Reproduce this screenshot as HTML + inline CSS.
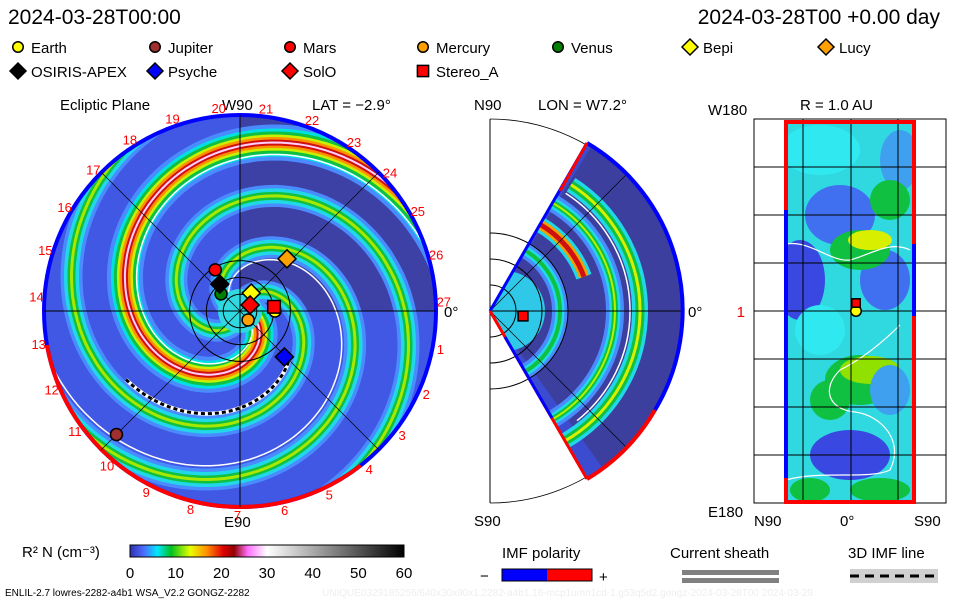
<!DOCTYPE html>
<html><head><meta charset="utf-8">
<style>
html,body{margin:0;padding:0;background:#fff;}
body{width:960px;height:600px;overflow:hidden;font-family:"Liberation Sans",sans-serif;}
svg text{font-family:"Liberation Sans",sans-serif;}
</style></head>
<body>
<svg id="chart" width="960" height="600" viewBox="0 0 960 600" xmlns="http://www.w3.org/2000/svg">
<defs>
  <clipPath id="eclClip"><circle cx="240" cy="311" r="195"/></clipPath>
  <clipPath id="merClip"><path d="M490,311 L587,143 A194,194 0 0 1 587,479 Z"/></clipPath>
  <clipPath id="rClip"><rect x="786" y="122" width="128" height="380"/></clipPath>
  <linearGradient id="cbar" x1="0" x2="1" y1="0" y2="0">
    <stop offset="0" stop-color="#3030b0"/>
    <stop offset="0.05" stop-color="#4c6cff"/>
    <stop offset="0.1" stop-color="#00e8ff"/>
    <stop offset="0.15" stop-color="#00c020"/>
    <stop offset="0.22" stop-color="#e8ff00"/>
    <stop offset="0.28" stop-color="#ff9000"/>
    <stop offset="0.34" stop-color="#e00000"/>
    <stop offset="0.38" stop-color="#900000"/>
    <stop offset="0.43" stop-color="#ff70ff"/>
    <stop offset="0.5" stop-color="#ffffff"/>
    <stop offset="1" stop-color="#000000"/>
  </linearGradient>
</defs>
<text x="8" y="24" font-size="21">2024-03-28T00:00</text>
<text x="940" y="24" font-size="21" text-anchor="end">2024-03-28T00 +0.00 day</text>
<g id="legend"></g>

<g id="ecl">
  <text x="60" y="110" font-size="15">Ecliptic Plane</text>
  <text x="222" y="110" font-size="15">W90</text>
  <text x="312" y="110" font-size="15">LAT = −2.9°</text>
  <text x="224" y="527" font-size="15">E90</text>
  <text x="444" y="317" font-size="15">0°</text>
  <g clip-path="url(#eclClip)" id="eclBody">
    <circle cx="240" cy="311" r="196" fill="#4058e4"/>
    <path d="M240,311 L240,100 A211,211 0 0 1 451,311 Z" fill="#3d3f9e" opacity="0.9"/>
  </g>
  <g id="eclOver"></g>
</g>

<g id="mer">
  <text x="474" y="110" font-size="15">N90</text>
  <text x="538" y="110" font-size="15">LON = W7.2°</text>
  <text x="474" y="526" font-size="15">S90</text>
  <text x="688" y="317" font-size="15">0°</text>
  <path d="M490,119 A192,192 0 0 1 490,503" fill="none" stroke="#000" stroke-width="0.8"/>
  <line x1="490" y1="119" x2="490" y2="503" stroke="#000" stroke-width="1"/>
  <g clip-path="url(#merClip)" id="merBody">
    <rect x="480" y="100" width="220" height="420" fill="#3c4cd0"/>
    <path d="M490,311 L700,311 L700,100 L620,100 Z" fill="#3d3f9e"/>
    <path d="M490,311 L700,311 L700,520 L640,520 Z" fill="#3d3f9e"/>
  </g>
  <g id="merOver"></g>
</g>

<g id="rp">
  <text x="800" y="110" font-size="15">R = 1.0 AU</text>
  <text x="708" y="115" font-size="15">W180</text>
  <text x="708" y="517" font-size="15">E180</text>
  <text x="754" y="526" font-size="15">N90</text>
  <text x="840" y="526" font-size="15">0°</text>
  <text x="914" y="526" font-size="15">S90</text>
  <text x="745" y="317" font-size="15" fill="#e00" text-anchor="end">1</text>
  <g clip-path="url(#rClip)" id="rBody">
    <rect x="786" y="122" width="128" height="380" fill="#30d8e0"/>
  </g>
  <g id="rOver"></g>
</g>

<g id="cb">
  <text x="22" y="557" font-size="15">R² N (cm⁻³)</text>
  <rect x="130" y="545" width="274" height="12" fill="url(#cbar)" stroke="#000" stroke-width="1"/>
</g>
<g>
  <text x="502" y="558" font-size="15">IMF polarity</text>
  <text x="480" y="581" font-size="15">−</text>
  <rect x="502" y="569" width="45" height="12" fill="#00f"/>
  <rect x="547" y="569" width="45" height="12" fill="#f00"/>
  <rect x="502" y="569" width="90" height="12" fill="none" stroke="#000"/>
  <text x="599" y="582" font-size="15">+</text>
</g>
<g>
  <text x="670" y="558" font-size="15">Current sheath</text>
  <rect x="682" y="570" width="97" height="5" fill="#808080"/>
  <rect x="682" y="578" width="97" height="5" fill="#808080"/>
</g>
<g>
  <text x="848" y="558" font-size="15">3D IMF line</text>
  <rect x="850" y="569" width="88" height="14" fill="#d0d0d0"/>
  <line x1="850" y1="576" x2="938" y2="576" stroke="#000" stroke-width="3" stroke-dasharray="9,6"/>
</g>
<text x="5" y="596" font-size="10">ENLIL-2.7 lowres-2282-a4b1 WSA_V2.2 GONGZ-2282</text>
<text x="322" y="596" font-size="10" fill="#eeeeee">UNIQUE0329185256/640x30x90x1.2282-a4b1.16-mcp1umn1cd-1.g53q5d2.gongz-2024-03-28T00   2024-03-29</text>
</svg>
<script>
// ---- data ----
var legendNames = ["Earth","Jupiter","Mars","Mercury","Venus","Bepi","Lucy","OSIRIS-APEX","Psyche","SolO","Stereo_A"];
var legendColors = ["#ffff00","#a03030","#ff0000","#ffa000","#008000","#ffff00","#ffa000","#000000","#0000ff","#ff0000","#ff0000"];
var legendShapes = ["c","c","c","c","c","d","d","d","d","d","s"];
var bodyRadiusAU = [1.04,5.2,1.43,0.36,0.76,0.63,2.09,1.0,1.9,0.35,1.02];
var bodyAngleDeg = [0,225,121,-48,138,58,48,127,-46,31,7];
var cbTicks = [0,10,20,30,40,50,60];
var rimLabels = [1,2,3,4,5,6,7,8,9,10,11,12,13,14,15,16,17,18,19,20,21,22,23,24,25,26,27];
var armPhase = [0, 1.5708, 3.1416, 4.7124];
var armKind = ["hot","green","green","green"];

var NS="http://www.w3.org/2000/svg";
function mk(tag, attrs, parent){var e=document.createElementNS(NS,tag);for(var k in attrs)e.setAttribute(k,attrs[k]);(parent||document.getElementById('chart')).appendChild(e);return e;}
var CX=240, CY=311, SC=33.6;

// legend
var leg=document.getElementById('legend');
var lx=[18,155,290,423,558,690,826,18,155,290,423];
var ly=[47,47,47,47,47,47,47,71,71,71,71];
function marker(shape,x,y,col,size,parent){
  var e;
  if(shape==="c"){e=mk('circle',{cx:x,cy:y,r:size*0.75,fill:col,stroke:'#000','stroke-width':1.5},parent);}
  else if(shape==="d"){e=mk('path',{d:'M'+x+','+(y-size)+' L'+(x+size)+','+y+' L'+x+','+(y+size)+' L'+(x-size)+','+y+' Z',fill:col,stroke:'#000','stroke-width':1.5},parent);}
  else {e=mk('rect',{x:x-size*0.7,y:y-size*0.7,width:size*1.4,height:size*1.4,fill:col,stroke:'#000','stroke-width':1.5},parent);}
  return e;
}
for(var i=0;i<legendNames.length;i++){
  var g=mk('g',{},leg);
  
  
  marker(legendShapes[i],lx[i],ly[i],legendColors[i],legendShapes[i]==="c"?7:8,g);
  var t=mk('text',{x:lx[i]+13,y:ly[i]+6,'font-size':15},g);t.textContent=legendNames[i];
}

// spiral arms
var body=document.getElementById('eclBody');
function armD(p0,cx,cy,B){
  var d='';
  for(var k=0;k<=200;k++){var ph=p0+k*0.05;var r=B*(ph-p0);if(r>260)break;
    var x=cx+r*Math.cos(ph), y=cy+r*Math.sin(ph); d+=(k?'L':'M')+x.toFixed(1)+','+y.toFixed(1);}
  return d;
}
var layersHot=[[36,'#4a8cff'],[28,'#00e0e0'],[22,'#10c040'],[16,'#c8f000'],[11,'#ff9000'],[6,'#d01010'],[2,'#ffd0ff']];
var layersGreen=[[22,'#4a8cff'],[15,'#20d8e8'],[8,'#10c040'],[3,'#a8e800']];
for(var a=0;a<armPhase.length;a++){
  var L=armKind[a]==="hot"?layersHot:layersGreen;
  for(var j=0;j<L.length;j++){
    var p=mk('path',{d:armD(armPhase[a],CX,CY,35),fill:'none',stroke:L[j][1],'stroke-width':L[j][0],'stroke-linecap':'round'},body);
    
    
  }
}
var w=mk('path',{d:armD(armPhase[2]+0.4,CX,CY,35),fill:'none',stroke:'#fff','stroke-width':1.5},body);


var w2=mk('path',{d:armD(armPhase[0]+0.35,CX,CY,35),fill:'none',stroke:'#fff','stroke-width':1.5},body);


mk('circle',{cx:CX,cy:CY,r:22,fill:'#30d8e0'},body);
// dashed imf line
var dd='';for(var k=0;k<=60;k++){var ph=2.6-k*0.03;var r=35*(ph+1.2);dd+=(k?'L':'M')+(CX+r*Math.cos(ph)).toFixed(1)+','+(CY+r*Math.sin(ph)).toFixed(1);}
var imf=mk('path',{d:dd,fill:'none',stroke:'#fff','stroke-width':4},body);

mk('path',{d:dd,fill:'none',stroke:'#000','stroke-width':3,'stroke-dasharray':'4,3'},body);

var ov=document.getElementById('eclOver');
// rim
mk('circle',{cx:CX,cy:CY,r:196,fill:'none',stroke:'#0000ff','stroke-width':4},ov);
var rim=mk('path',{d:'M'+(CX+196*Math.cos(Math.PI*190/180))+','+(CY-196*Math.sin(Math.PI*190/180))+' A196,196 0 0 0 '+(CX+196*Math.cos(-Math.PI*52/180))+','+(CY-196*Math.sin(-Math.PI*52/180)),fill:'none',stroke:'#ff0000','stroke-width':4},ov);

// axes
mk('line',{x1:CX,y1:CY-196,x2:CX,y2:CY+196,stroke:'#000','stroke-width':1},ov);
mk('line',{x1:CX-196,y1:CY,x2:CX+196,y2:CY,stroke:'#000','stroke-width':1},ov);
mk('line',{x1:CX-139,y1:CY-139,x2:CX+139,y2:CY+139,stroke:'#000','stroke-width':0.7},ov);
mk('line',{x1:CX-139,y1:CY+139,x2:CX+139,y2:CY-139,stroke:'#000','stroke-width':0.7},ov);
[0.5,1,1.5].forEach(function(r){mk('circle',{cx:CX,cy:CY,r:r*SC,fill:'none',stroke:'#000','stroke-width':1},ov);});
for(var i=0;i<rimLabels.length;i++){
  var ang=(96-(rimLabels[i]-20)*13.33)*Math.PI/180;
  var t=mk('text',{x:(CX+204*Math.cos(ang)).toFixed(1),y:(CY-204*Math.sin(ang)+5).toFixed(1),'font-size':13,fill:'#ff0000','text-anchor':'middle'},ov);
  t.textContent=rimLabels[i];
  
}
// bodies
for(var i=0;i<bodyRadiusAU.length;i++){
  var ang=bodyAngleDeg[i]*Math.PI/180;
  var x=CX+bodyRadiusAU[i]*SC*Math.cos(ang), y=CY-bodyRadiusAU[i]*SC*Math.sin(ang);
  var m=marker(legendShapes[i],x,y,legendColors[i],legendShapes[i]==="c"?8:9,ov);
  
  
}

// meridional panel
var mb=document.getElementById('merBody');
function arcC(r,w,col,a0,a1,cx){cx=cx||490;var x0=cx+r*Math.cos(a0),y0=311+r*Math.sin(a0),x1=cx+r*Math.cos(a1),y1=311+r*Math.sin(a1);
  return mk('path',{d:'M'+x0+','+y0+' A'+r+','+r+' 0 0 1 '+x1+','+y1,fill:'none',stroke:col,'stroke-width':w},mb);}
mk('circle',{cx:505,cy:311,r:40,fill:'#30c8e8'},mb);
[[70,16,'#4a8cff'],[70,9,'#20d8e8'],[70,4,'#10c040']].forEach(function(l){arcC(l[0],l[1],l[2],-1.1,1.1);});
[[100,16,'#20d8e8'],[100,10,'#f0a000'],[100,5,'#d01010']].forEach(function(l){arcC(l[0],l[1],l[2],-1.05,-0.35);});
[[125,18,'#4a8cff'],[125,11,'#20d8e8'],[125,6,'#10c040'],[125,2,'#b8f000']].forEach(function(l){arcC(l[0],l[1],l[2],-1.05,1.05);});
[[150,16,'#20d8e8'],[150,9,'#10c040'],[150,3,'#d8f000']].forEach(function(l){arcC(l[0],l[1],l[2],-1.0,1.05);});
arcC(140,1.5,'#fff',-1.0,0.9);
var mo=document.getElementById('merOver');
[26,52,78].forEach(function(r){mk('path',{d:'M490,'+(311-r)+' A'+r+','+r+' 0 0 1 490,'+(311+r),fill:'none',stroke:'#000','stroke-width':1},mo);});
mk('line',{x1:490,y1:311,x2:683,y2:311,stroke:'#000','stroke-width':1},mo);
mk('line',{x1:490,y1:311,x2:627,y2:174,stroke:'#000','stroke-width':0.7},mo);
mk('line',{x1:490,y1:311,x2:627,y2:448,stroke:'#000','stroke-width':0.7},mo);
mk('path',{d:'M587,143 A194,194 0 0 1 655,410',fill:'none',stroke:'#0000ff','stroke-width':4},mo);
mk('path',{d:'M655,410 A194,194 0 0 1 587,479',fill:'none',stroke:'#ff0000','stroke-width':4},mo);
mk('line',{x1:490,y1:311,x2:587,y2:143,stroke:'#0000ff','stroke-width':3},mo);
mk('line',{x1:560,y1:191,x2:587,y2:143,stroke:'#ff0000','stroke-width':3},mo);
mk('line',{x1:490,y1:311,x2:587,y2:479,stroke:'#ff0000','stroke-width':3},mo);
mk('line',{x1:505,y1:337,x2:552,y2:418,stroke:'#0000ff','stroke-width':3},mo);
var sa=marker('s',523,316,'#ff0000',7,mo);


// right panel
var rb=document.getElementById('rBody');
var blobs=[[820,150,40,25,'#30e8f0'],[840,215,35,30,'#4070f0'],[800,280,25,40,'#3848e0'],[885,280,25,30,'#4070f0'],[860,250,30,20,'#10c040'],[870,240,22,10,'#d8f000'],[860,380,35,25,'#10c040'],[870,370,30,14,'#90e000'],[890,390,20,25,'#40a0f0'],[850,455,40,25,'#3848e0'],[820,330,25,25,'#30e8f0'],[880,490,30,12,'#10c040'],[810,490,20,12,'#10c040'],[900,160,20,30,'#40a0f0'],[830,400,20,20,'#10c040'],[890,200,20,20,'#10c040']];
blobs.forEach(function(b){mk('ellipse',{cx:b[0],cy:b[1],rx:b[2],ry:b[3],fill:b[4]},rb);});
mk('path',{d:'M786,244 C810,240 830,262 850,260 C870,255 890,240 910,250',fill:'none',stroke:'#fff','stroke-width':1.2},rb);
mk('path',{d:'M900,325 C880,345 860,360 840,370 C820,390 830,410 855,412 C880,415 905,440 890,470 C870,480 820,470 786,480',fill:'none',stroke:'#fff','stroke-width':1.2},rb);
var ro=document.getElementById('rOver');
mk('rect',{x:754,y:119,width:192,height:384,fill:'none',stroke:'#000','stroke-width':1},ro);
[803,851,898].forEach(function(x){mk('line',{x1:x,y1:119,x2:x,y2:503,stroke:'#000','stroke-width':1},ro);});
[167,215,263,311,359,407,455].forEach(function(y){mk('line',{x1:754,y1:y,x2:946,y2:y,stroke:'#000','stroke-width':1},ro);});
mk('rect',{x:786,y:122,width:128,height:380,fill:'none',stroke:'#ff0000','stroke-width':4},ro);
mk('line',{x1:786,y1:210,x2:786,y2:478,stroke:'#0000ff','stroke-width':4},ro);
mk('line',{x1:914,y1:244,x2:914,y2:316,stroke:'#0000ff','stroke-width':4},ro);
var e2=marker('c',856,311,'#ffff00',7,ro);
var s2=marker('s',856,303,'#ff0000',6,ro);

// colorbar ticks
var cb=document.getElementById('cb');
cbTicks.forEach(function(v){
  var x=130+v/60*274;
  var t=mk('text',{x:x,y:578,'font-size':15,'text-anchor':'middle'},cb);t.textContent=v;
  
});
</script>
</body></html>
